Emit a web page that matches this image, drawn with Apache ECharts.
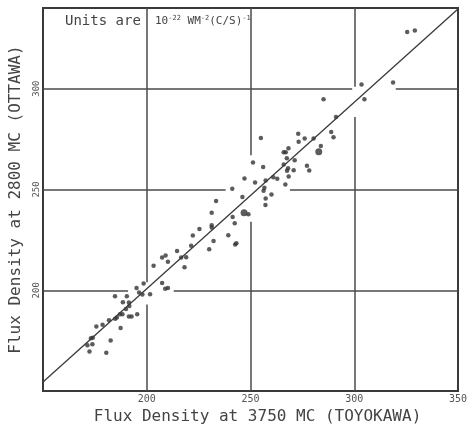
<!DOCTYPE html>
<html>
<head>
<meta charset="utf-8">
<script src="https://cdn.jsdelivr.net/npm/echarts@6/dist/echarts.min.js"></script>
<style>
  html, body { margin: 0; padding: 0; background: #fff; }
  #chart { width: 476px; height: 430px; }
</style>
</head>
<body>
<div id="chart"></div>
<script>
// flux pairs, Toyokawa 3750 MC (x) vs Ottawa 2800 MC (y)
var ptX = [171.4,172.4,173.1,174.0,173.8,180.5,182.6,175.7,178.7,181.8,184.8,185.6,187.4,187.1,188.3,191.4,192.7,195.4,184.7,188.5,190.4,191.4,191.6,190.0,195.1,196.3,197.9,198.5,201.6,207.4,208.9,210.2,
           203.3,207.4,209.1,210.2,214.6,216.6,219.0,218.2,221.4,222.2,225.4,230.1,232.2,231.3,231.3,231.3,233.4,239.3,241.4,242.4,241.2,242.6,243.2,246.1,249.0,247.1,251.2,252.2,255.0,256.1,256.7,256.3,257.3,257.3,257.2,260.1,261.0,262.9,266.0,267.0,268.3,267.5,266.0,268.1,267.6,270.8,268.4,266.8,271.3,273.0,273.2,276.1,280.4,277.2,278.3,283.9,285.2,288.9,290.0,291.2,303.5,304.9,318.7,325.5,329.2];
var ptY = [172.7,169.6,176.2,176.4,173.2,169.0,175.1,182.1,182.9,185.2,185.9,186.5,181.3,188.1,188.1,187.0,187.0,188.1,197.1,194.1,197.1,193.9,192.2,190.7,201.1,198.9,197.9,203.4,198.0,203.6,200.8,201.1,
           212.2,216.2,217.2,214.1,219.5,216.2,216.4,211.4,222.1,227.2,230.4,220.3,224.4,232.3,231.2,238.5,244.3,227.3,236.4,233.3,250.4,222.7,223.3,246.3,237.7,255.5,263.4,253.4,275.5,261.1,250.9,249.4,254.5,245.5,242.3,247.5,256.1,255.3,268.5,268.5,270.4,265.5,262.4,260.5,259.3,259.5,256.4,252.5,264.5,277.6,273.7,275.3,275.3,261.8,259.4,271.6,294.8,278.5,275.9,286.0,302.0,294.8,303.1,328.1,328.8];
// the two heavier dots
var bigX = [246.9, 282.9];
var bigY = [238.5, 268.7];
// fitted line
var fitX = [150, 350];
var fitY = [154.5, 339.5];
// axis ticks shown
var xTicks = [200, 250, 300, 350];
var yTicks = [200, 250, 300];

// hand-drawn grid lines have gaps where the dots are
var vGaps = [[200, 193, 204], [250, 234, 267], [300, 286, 301]];
var hGaps = [[200, 191, 213], [250, 238, 269], [300, 299, 320]];

function zip(_x, _y) {
    var out = [];
    for (var i = 0; i < _x.length; i++) {
        out.push([_x[i], _y[i]]);
    }
    return out;
}

function gridSegments() {
    var segs = [];
    for (var i = 0; i < vGaps.length; i++) {
        var g = vGaps[i];
        segs.push([{coord: [g[0], 150]}, {coord: [g[0], g[1]]}]);
        segs.push([{coord: [g[0], g[2]]}, {coord: [g[0], 340]}]);
    }
    for (var j = 0; j < hGaps.length; j++) {
        var h = hGaps[j];
        segs.push([{coord: [150, h[0]]}, {coord: [h[1], h[0]]}]);
        segs.push([{coord: [h[2], h[0]]}, {coord: [350, h[0]]}]);
    }
    return segs;
}

var FONT = '"DejaVu Sans Mono", monospace';
var INK = '#3a3a3a';

var myChart = echarts.init(document.getElementById('chart'));
var option = {
    backgroundColor: '#fff',
    animation: false,
    grid: {
        left: 43,
        right: 18,
        top: 8,
        bottom: 33,
        show: true,
        borderColor: INK,
        borderWidth: 2,
        backgroundColor: 'transparent'
    },
    xAxis: {
        type: 'value',
        min: 150,
        max: 350,
        interval: 50,
        name: 'Flux Density at 3750 MC (TOYOKAWA)',
        nameLocation: 'middle',
        nameGap: 11,
        nameTextStyle: {
            fontFamily: FONT,
            fontSize: 16,
            color: '#444',
            padding: [0, 0, 0, 14]
        },
        axisLine: {show: false},
        axisTick: {show: false},
        splitLine: {show: false},
        axisLabel: {
            margin: 3,
            fontFamily: FONT,
            fontSize: 10,
            color: '#555',
            showMaxLabel: true,
            formatter: function (v) {
                return xTicks.indexOf(v) >= 0 ? String(v) : '';
            }
        }
    },
    yAxis: {
        type: 'value',
        min: 150,
        max: 340,
        interval: 50,
        name: 'Flux Density at 2800 MC (OTTAWA)',
        nameLocation: 'middle',
        nameRotate: 90,
        nameGap: 18,
        nameTextStyle: {
            fontFamily: FONT,
            fontSize: 16,
            color: '#444'
        },
        axisLine: {show: false},
        axisTick: {show: false},
        splitLine: {show: false},
        axisLabel: {
            rotate: 90,
            margin: 2,
            fontFamily: FONT,
            fontSize: 9,
            color: '#555',
            formatter: function (v) {
                return yTicks.indexOf(v) >= 0 ? String(v) : '';
            }
        }
    },
    graphic: [
        {
            type: 'text',
            left: 65,
            top: 14,
            style: {
                text: 'Units are',
                font: '14px ' + FONT,
                fill: '#444'
            }
        },
        {
            type: 'text',
            left: 155,
            top: 15,
            style: {
                text: '{n|10}{s|-22}{n| WM}{s|-2}{n|(C/S)}{s|-1}',
                fill: '#444',
                rich: {
                    n: {fontFamily: FONT, fontSize: 11, color: '#444', lineHeight: 12, verticalAlign: 'bottom'},
                    s: {fontFamily: FONT, fontSize: 7, color: '#444', lineHeight: 12, verticalAlign: 'top'}
                }
            }
        }
    ],
    series: [
        {
            name: 'grid',
            type: 'line',
            data: [],
            silent: true,
            markLine: {
                silent: true,
                symbol: 'none',
                label: {show: false},
                lineStyle: {type: 'solid', color: '#4a4a4a', width: 1.5},
                data: gridSegments()
            }
        },
        {
            name: 'fit',
            type: 'line',
            data: zip(fitX, fitY),
            symbol: 'none',
            silent: true,
            lineStyle: {color: INK, width: 1.3}
        },
        {
            name: 'flux',
            type: 'scatter',
            data: zip(ptX, ptY),
            symbolSize: 4.5,
            itemStyle: {color: '#333'}
        },
        {
            name: 'flux big',
            type: 'scatter',
            data: zip(bigX, bigY),
            symbolSize: 7,
            itemStyle: {color: '#333'}
        }
    ]
};
myChart.setOption(option);
</script>
</body>
</html>
